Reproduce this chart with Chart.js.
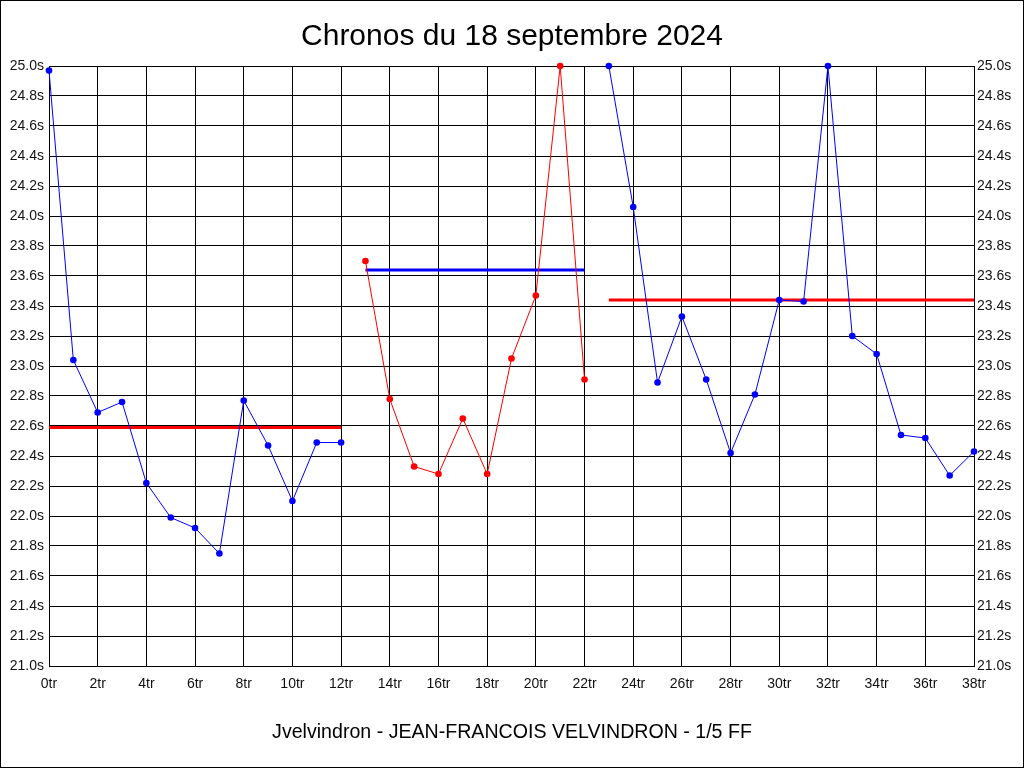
<!DOCTYPE html>
<html>
<head>
<meta charset="utf-8">
<title>Chronos du 18 septembre 2024</title>
<script src="https://cdn.jsdelivr.net/npm/chart.js@4/dist/chart.umd.min.js"></script>
<style>
    html, body { margin: 0; padding: 0; background: #fff; }
    #wrap { width: 1024px; height: 768px; }
</style>
</head>
<body>
<div id="wrap"><canvas id="chronos" width="1024" height="768"></canvas></div>
<script>
// Lap numbers and lap times (seconds) per session
const tours1 = [0, 1, 2, 3, 4, 5, 6, 7, 8, 9, 10, 11, 12];
const temps1 = [24.97, 23.04, 22.69, 22.76, 22.22, 21.99, 21.92, 21.75, 22.77, 22.47, 22.10, 22.49, 22.49];

const tours2 = [13, 14, 15, 16, 17, 18, 19, 20, 21, 22];
const temps2 = [23.70, 22.78, 22.33, 22.28, 22.65, 22.28, 23.05, 23.47, 25.00, 22.91];

const tours3 = [23, 24, 25, 26, 27, 28, 29, 30, 31, 32, 33, 34, 35, 36, 37, 38];
const temps3 = [25.00, 24.06, 22.89, 23.33, 22.91, 22.42, 22.81, 23.44, 23.43, 25.00, 23.20, 23.08, 22.54, 22.52, 22.27, 22.43];

// Average line for each session: [first lap, last lap] and value
const moyTours1 = [0, 12];
const moyTours2 = [13, 22];
const moyTours3 = [23, 38];
const moyennes = [22.59, 23.64, 23.44];

const titre = 'Chronos du 18 septembre 2024';
const pilote = 'Jvelvindron - JEAN-FRANCOIS VELVINDRON - 1/5 FF';

function points(xs, ys) {
    return xs.map((x, i) => ({ x: x, y: ys[i] }));
}

function serie(xs, ys, color) {
    return {
        data: points(xs, ys),
        borderColor: color,
        backgroundColor: color,
        borderWidth: 1,
        pointRadius: 3.3,
        pointBorderWidth: 0,
        pointHoverRadius: 3.3,
        tension: 0,
        clip: false
    };
}

function moyenne(xs, value, color) {
    return {
        data: xs.map(x => ({ x: x, y: value })),
        borderColor: color,
        borderWidth: 3,
        pointRadius: 0,
        pointHoverRadius: 0,
        tension: 0
    };
}

// White background, outer frame, title and footer
const decor = {
    id: 'decor',
    beforeDraw(chart) {
        const ctx = chart.ctx;
        ctx.save();
        ctx.fillStyle = '#ffffff';
        ctx.fillRect(0, 0, chart.width, chart.height);
        ctx.restore();
    },
    afterDraw(chart) {
        const ctx = chart.ctx;
        ctx.save();
        ctx.strokeStyle = '#000000';
        ctx.lineWidth = 1;
        ctx.strokeRect(0.5, 0.5, chart.width - 1, chart.height - 1);
        ctx.fillStyle = '#000000';
        ctx.textAlign = 'center';
        ctx.textBaseline = 'middle';
        ctx.font = '30px "Liberation Sans", Arial, sans-serif';
        ctx.fillText(titre, 512, 37);
        ctx.font = '19.6px "Liberation Sans", Arial, sans-serif';
        ctx.fillText(pilote, 512, 733);
        ctx.restore();
    }
};

const tickFont = { family: '"Liberation Sans", Arial, sans-serif', size: 14 };

new Chart(document.getElementById('chronos'), {
    type: 'line',
    data: {
        datasets: [
            serie(tours1, temps1, '#0000ff'),
            serie(tours2, temps2, '#ff0000'),
            serie(tours3, temps3, '#0000ff'),
            moyenne(moyTours1, moyennes[0], '#ff0000'),
            moyenne(moyTours2, moyennes[1], '#0000ff'),
            moyenne(moyTours3, moyennes[2], '#ff0000')
        ]
    },
    options: {
        responsive: false,
        animation: false,
        layout: { padding: { top: 66, left: 0, right: 0, bottom: 0 } },
        plugins: {
            legend: { display: false },
            tooltip: { enabled: false }
        },
        scales: {
            x: {
                type: 'linear',
                min: 0,
                max: 38,
                afterFit(scale) { scale.height = 102; },
                ticks: {
                    stepSize: 2,
                    padding: 10,
                    color: '#111',
                    font: tickFont,
                    maxRotation: 0,
                    callback: v => v + 'tr'
                },
                grid: { color: '#000', lineWidth: 1, drawTicks: false },
                border: { color: '#000', width: 1 }
            },
            y: {
                type: 'linear',
                position: 'left',
                min: 21,
                max: 25,
                afterFit(scale) { scale.width = 49; },
                ticks: {
                    stepSize: 0.2,
                    padding: 5,
                    color: '#111',
                    font: tickFont,
                    callback: v => v.toFixed(1) + 's'
                },
                grid: { color: '#000', lineWidth: 1, drawTicks: false },
                border: { color: '#000', width: 1 }
            },
            y2: {
                type: 'linear',
                position: 'right',
                min: 21,
                max: 25,
                afterFit(scale) { scale.width = 50; },
                ticks: {
                    stepSize: 0.2,
                    padding: 3,
                    color: '#111',
                    font: tickFont,
                    callback: v => v.toFixed(1) + 's'
                },
                grid: { drawOnChartArea: false, drawTicks: false },
                border: { color: '#000', width: 1 }
            }
        }
    },
    plugins: [decor]
});
</script>
</body>
</html>
